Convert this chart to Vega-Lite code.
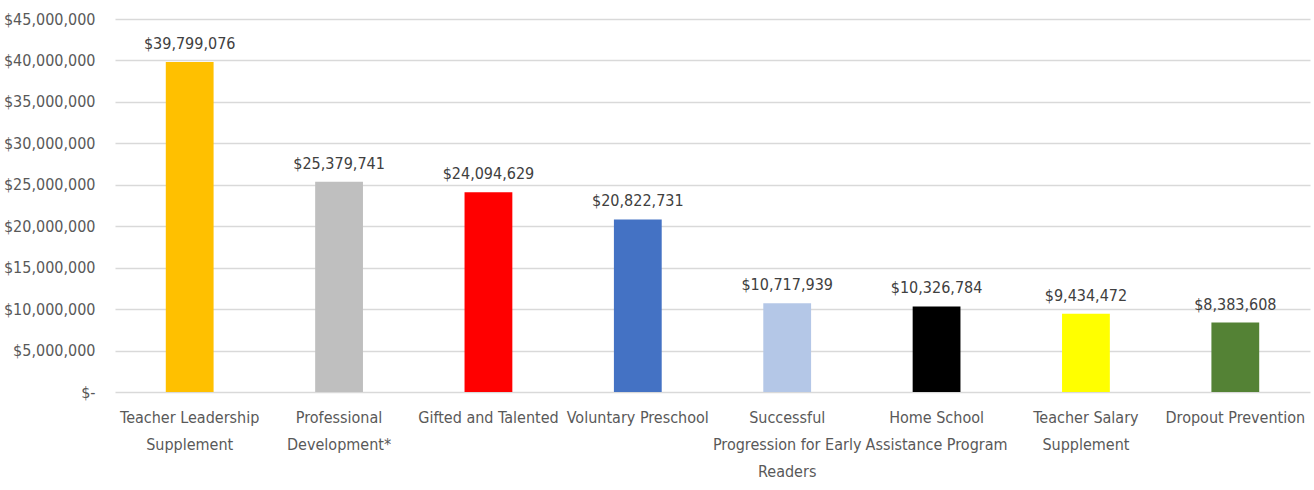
{
  "$schema": "https://vega.github.io/schema/vega-lite/v6.json",
  "width": 1195,
  "height": 373,
  "autosize": {"type": "none"},
  "padding": {"left": 115, "top": 19, "right": 4, "bottom": 98},
  "background": "white",
  "config": {
    "view": {"stroke": null},
    "font": "Liberation Sans Narrow, DejaVu Sans Condensed, sans-serif"
  },
  "data": {
    "values": [
      {"program": "Teacher Leadership|Supplement", "amount": 39799076, "color": "#FFC000"},
      {"program": "Professional|Development*", "amount": 25379741, "color": "#BFBFBF"},
      {"program": "Gifted and Talented", "amount": 24094629, "color": "#FF0000"},
      {"program": "Voluntary Preschool", "amount": 20822731, "color": "#4472C4"},
      {"program": "Successful|Progression for Early|Readers", "amount": 10717939, "color": "#B4C7E7"},
      {"program": "Home School|Assistance Program", "amount": 10326784, "color": "#000000"},
      {"program": "Teacher Salary|Supplement", "amount": 9434472, "color": "#FFFF00"},
      {"program": "Dropout Prevention", "amount": 8383608, "color": "#548235"}
    ]
  },
  "encoding": {
    "x": {
      "field": "program",
      "type": "nominal",
      "sort": null,
      "scale": {"paddingInner": 0.68, "paddingOuter": 0.34},
      "axis": {
        "title": null,
        "labelAngle": 0,
        "labelExpr": "split(datum.label, '|')",
        "labelFontSize": 16,
        "labelColor": "#595959",
        "labelLineHeight": 27,
        "labelPadding": 17,
        "labelBaseline": "top",
        "ticks": false,
        "domain": false,
        "labelLimit": 0
      }
    },
    "y": {
      "field": "amount",
      "type": "quantitative",
      "scale": {"domain": [0, 45000000], "nice": false},
      "axis": {
        "title": null,
        "values": [0, 5000000, 10000000, 15000000, 20000000, 25000000, 30000000, 35000000, 40000000, 45000000],
        "labelExpr": "datum.value == 0 ? '$-        ' : '$' + format(datum.value, ',')",
        "labelFontSize": 16,
        "labelColor": "#595959",
        "labelPadding": 20,
        "ticks": false,
        "domain": false,
        "gridColor": "#D9D9D9",
        "gridWidth": 1.5
      }
    }
  },
  "layer": [
    {
      "mark": {"type": "bar"},
      "encoding": {
        "color": {"field": "color", "type": "nominal", "scale": null}
      }
    },
    {
      "mark": {"type": "text", "baseline": "bottom", "dy": -10, "fontSize": 16, "color": "#404040"},
      "encoding": {
        "text": {"field": "amount", "type": "quantitative", "format": "$,.0f"}
      }
    }
  ]
}
